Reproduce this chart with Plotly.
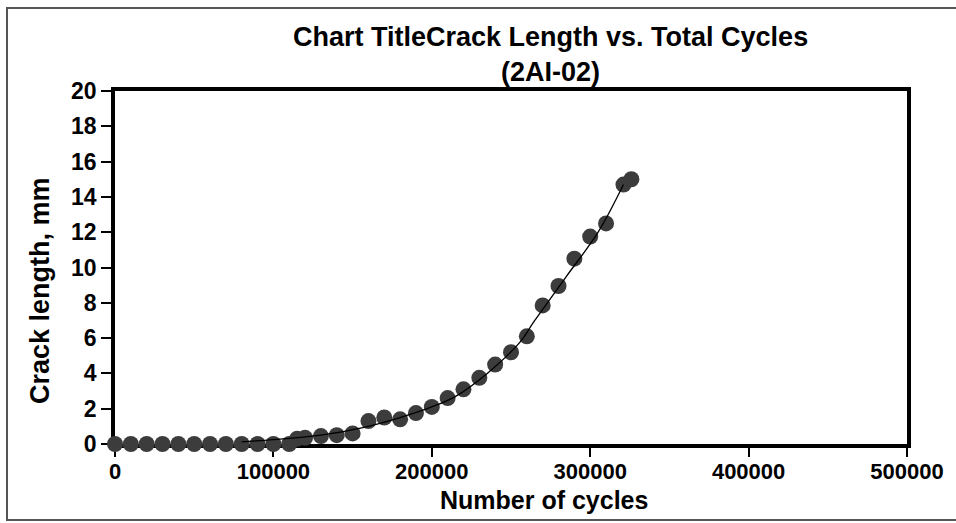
import plotly.graph_objects as go

# Measured data (cycles, crack length mm)
cycles = [0, 10000, 20000, 30000, 40000, 50000, 60000, 70000, 80000, 90000, 100000, 110000,
          115000, 120000, 130000, 140000, 150000, 160000, 170000, 180000, 190000, 200000,
          210000, 220000, 230000, 240000, 250000, 260000, 270000, 280000, 290000, 300000,
          310000, 321000, 326000]
crack_mm = [0, 0, 0, 0, 0, 0, 0, 0, 0, 0, 0, 0,
            0.3, 0.35, 0.45, 0.5, 0.6, 1.3, 1.5, 1.4, 1.75, 2.1,
            2.6, 3.1, 3.75, 4.5, 5.2, 6.1, 7.85, 8.95, 10.5, 11.75,
            12.5, 14.7, 15.0]

# Trendline
trend_cycles = [80000, 100000, 130000, 155000, 180000, 200000, 215000, 235000, 255000,
                265000, 285000, 305000, 321000]
trend_mm = [0.12, 0.25, 0.5, 0.9, 1.5, 2.1, 2.7, 4.0, 5.7, 7.0, 9.5, 12.0, 14.7]

x_ticks = [0, 100000, 200000, 300000, 400000, 500000]
y_ticks = [0, 2, 4, 6, 8, 10, 12, 14, 16, 18, 20]

FONT = "Liberation Sans, Arial, sans-serif"

fig = go.Figure()
fig.add_trace(go.Scatter(
    x=cycles, y=crack_mm, mode="markers",
    marker=dict(size=16, color="#3c3c3c", line=dict(width=0)),
    cliponaxis=False, showlegend=False))
fig.add_trace(go.Scatter(
    x=trend_cycles, y=trend_mm, mode="lines",
    line=dict(color="black", width=1.3, shape="spline"),
    cliponaxis=False, showlegend=False))

L, R, T, B = 115, 49, 91, 79
W, H = 956, 523
pw, ph = W - L - R, H - T - B

def px(x):
    return (x - L) / pw

def py(y):
    return (H - B - y) / ph

def bold(s):
    return "<b>" + s + "</b>"

fig.update_layout(
    width=W, height=H,
    margin=dict(l=L, r=R, t=T, b=B),
    paper_bgcolor="white", plot_bgcolor="white",
    font=dict(family=FONT, color="black", size=23),
    xaxis=dict(range=[0, 500000], tickvals=x_ticks, ticktext=[bold(str(v)) for v in x_ticks],
               showgrid=False, zeroline=False, showline=True, linecolor="black", linewidth=3.5,
               mirror=True, ticks="outside", ticklen=9, tickwidth=1.5, tickcolor="black",
               tickfont=dict(size=22), ticklabelstandoff=-4, layer="below traces"),
    yaxis=dict(range=[0, 20], tickvals=y_ticks, ticktext=[bold(str(v)) for v in y_ticks],
               showgrid=False, zeroline=False, showline=True, linecolor="black", linewidth=3.5,
               mirror=True, ticks="outside", ticklen=10, tickwidth=1.5, tickcolor="black",
               tickfont=dict(size=23), layer="below traces"),
    annotations=[
        dict(text=bold("Chart TitleCrack Length vs. Total Cycles") + "<br>" + bold("(2AI-02)"),
             x=px(550), y=py(54),
             xref="paper", yref="paper", showarrow=False, xanchor="center", yanchor="middle",
             font=dict(size=27, family=FONT)),
        dict(text=bold("Number of cycles"), x=px(544), y=py(500), xref="paper", yref="paper",
             showarrow=False, xanchor="center", yanchor="middle", font=dict(size=25, family=FONT)),
        dict(text=bold("Crack length, mm"), x=px(40), y=py(291), xref="paper", yref="paper",
             showarrow=False, xanchor="center", yanchor="middle", textangle=-90,
             font=dict(size=27, family=FONT)),
    ],
    shapes=[dict(type="rect", xref="paper", yref="paper",
                 x0=px(7), x1=px(975), y0=py(520), y1=py(8),
                 line=dict(color="#555555", width=2), fillcolor="rgba(0,0,0,0)", layer="below")],
)

fig.write_html("out.html", config={"displayModeBar": False},
               post_script="document.body.style.margin='0px';")
